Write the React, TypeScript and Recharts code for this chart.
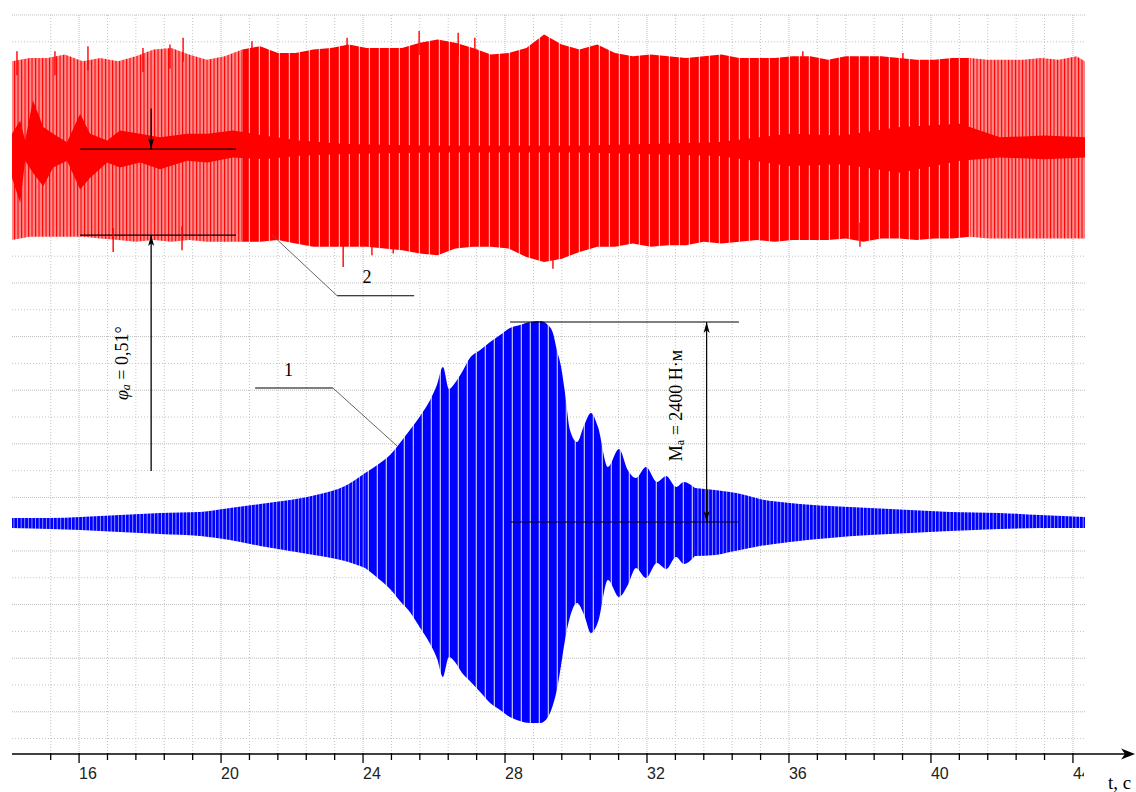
import { ComposedChart, XAxis, YAxis, CartesianGrid, Area, Scatter, ReferenceLine, ReferenceDot } from "recharts";

// time axis, s
const T_MIN = 14.11;
const T_MAX = 44.34;
const majorTicks = [16, 20, 24, 28, 32, 36, 40, 44];
const minorTicks = [
  15.2, 16.8, 17.6, 18.4, 19.2, 20.8, 21.6, 22.4, 23.2, 24.8, 25.6, 26.4, 27.2, 28.8, 29.6, 30.4, 31.2, 32.8, 33.6,
  34.4, 35.2, 36.8, 37.6, 38.4, 39.2, 40.8, 41.6, 42.4, 43.2,
];
const allTicks = [...minorTicks, ...majorTicks].sort((a, b) => a - b);
const majorRows = [0, 2, 4, 6, 8, 10, 12, 14, 16, 18, 20, 22, 24, 26];
const minorRows = [1, 3, 5, 7, 9, 11, 13, 15, 17, 19, 21, 23, 25, 27];

// 1 — torque envelope, N·m
const blueT = [
  14.11, 15.18, 16.03, 17.15, 18.28, 19.41, 20.25, 21.1, 21.94, 22.79, 23.49, 24.06, 24.48, 24.76, 25.04, 25.32, 25.61,
  25.89, 26.08, 26.25, 26.42, 26.59, 26.79, 27.01, 27.3, 27.58, 27.86, 28.14, 28.42, 28.7, 28.99, 29.21, 29.35, 29.46,
  29.58, 29.69, 29.83, 30.03, 30.23, 30.42, 30.62, 30.9, 31.21, 31.46, 31.69, 31.97, 32.28, 32.54, 32.82, 33.04, 33.35,
  33.92, 34.34, 34.76, 35.18, 36.03, 37.15, 38.28, 39.41, 40.54, 41.94, 43.07, 44.34,
];
const blueHi = [
  48, 48, 60, 84, 108, 120, 168, 216, 264, 336, 432, 588, 708, 804, 948, 1104, 1272, 1464, 1644, 1860, 1596, 1668, 1800,
  1968, 2064, 2160, 2244, 2328, 2364, 2400, 2412, 2364, 2268, 2064, 1860, 1548, 1104, 960, 1164, 1308, 1140, 660, 876,
  624, 528, 660, 480, 552, 420, 480, 408, 384, 360, 324, 276, 228, 192, 168, 144, 120, 108, 84, 60,
];
const blueLo = [
  -72, -84, -96, -120, -144, -168, -216, -288, -348, -408, -468, -552, -696, -804, -948, -1080, -1272, -1464, -1632,
  -1860, -1620, -1680, -1812, -1908, -2040, -2172, -2256, -2340, -2388, -2412, -2412, -2340, -2196, -2016, -1716, -1416,
  -1140, -972, -1116, -1332, -1200, -696, -900, -756, -552, -672, -492, -564, -420, -504, -408, -396, -360, -324, -288,
  -240, -192, -156, -132, -108, -84, -72, -72,
];

// 2 — angle envelope, deg
const redT = [
  14.1, 14.6, 15.1, 15.6, 16.1, 16.6, 17.1, 17.6, 18.1, 18.6, 19.1, 19.6, 20.1, 20.6, 21.1, 21.6, 22.1, 22.6, 23.1, 23.6,
  24.1, 24.6, 25.1, 25.6, 26.1, 26.6, 27.1, 27.6, 28.1, 28.6, 29.1, 29.6, 30.1, 30.6, 31.1, 31.6, 32.1, 32.6, 33.1, 33.6,
  34.1, 34.6, 35.1, 35.6, 36.1, 36.6, 37.1, 37.6, 38.1, 38.6, 39.1, 39.6, 40.1, 40.6, 41.1, 41.6, 42.1, 42.6, 43.1, 43.6,
  44.1, 44.34,
];
const redHi = [
  0.52, 0.54, 0.54, 0.56, 0.52, 0.54, 0.52, 0.55, 0.59, 0.6, 0.56, 0.53, 0.55, 0.59, 0.61, 0.57, 0.57, 0.59, 0.6, 0.62,
  0.6, 0.6, 0.6, 0.63, 0.65, 0.63, 0.6, 0.56, 0.57, 0.6, 0.68, 0.62, 0.59, 0.62, 0.57, 0.55, 0.56, 0.55, 0.54, 0.55,
  0.56, 0.54, 0.54, 0.54, 0.55, 0.55, 0.53, 0.55, 0.55, 0.55, 0.54, 0.53, 0.53, 0.54, 0.54, 0.53, 0.53, 0.53, 0.54, 0.53,
  0.55, 0.52,
];
const redLo = [
  -0.54, -0.52, -0.52, -0.52, -0.52, -0.53, -0.54, -0.55, -0.54, -0.55, -0.54, -0.55, -0.55, -0.55, -0.55, -0.54, -0.56,
  -0.58, -0.58, -0.58, -0.58, -0.59, -0.6, -0.62, -0.63, -0.59, -0.58, -0.58, -0.59, -0.64, -0.67, -0.65, -0.61, -0.58,
  -0.58, -0.56, -0.58, -0.57, -0.57, -0.55, -0.56, -0.55, -0.54, -0.55, -0.54, -0.54, -0.54, -0.53, -0.55, -0.53, -0.53,
  -0.54, -0.53, -0.53, -0.52, -0.53, -0.53, -0.53, -0.53, -0.53, -0.53, -0.53,
];
const coreT = [
  14.11, 14.34, 14.48, 14.7, 14.99, 15.27, 15.66, 16.03, 16.31, 16.79, 17.15, 17.72, 18.28, 19.04, 19.61, 20.34, 21.2,
  22.2, 23.5, 26.0, 30.0, 34.0, 36.0, 37.5, 39.13, 40.82, 41.94, 43.2, 44.34,
];
const coreHi = [
  0.09, 0.17, 0.05, 0.29, 0.13, 0.09, 0.04, 0.21, 0.09, 0.05, 0.11, 0.09, 0.07, 0.09, 0.09, 0.11, 0.08, 0.05, 0.03, 0.02,
  0.02, 0.04, 0.09, 0.08, 0.13, 0.15, 0.07, 0.08, 0.07,
];
const coreLo = [
  -0.17, -0.32, -0.07, -0.14, -0.22, -0.11, -0.07, -0.24, -0.17, -0.08, -0.11, -0.08, -0.12, -0.07, -0.08, -0.05, -0.06,
  -0.04, -0.03, -0.02, -0.02, -0.04, -0.1, -0.09, -0.14, -0.07, -0.05, -0.06, -0.05,
];
const spikeTopT = [14.25, 15.32, 16.25, 17.8, 18.56, 18.93, 20.87, 23.55, 25.58, 26.68, 27.15, 36.39, 39.21];
const spikeTopV = [0.58, 0.58, 0.61, 0.6, 0.62, 0.66, 0.64, 0.66, 0.7, 0.69, 0.66, 0.58, 0.57];
const spikeBotT = [16.96, 18.9, 23.44, 24.25, 24.85, 29.35, 38.0];
const spikeBotV = [-0.61, -0.6, -0.7, -0.63, -0.62, -0.71, -0.58];

// annotations
const phiLevels = [0, -0.51];
const phiSpan = [16.03, 20.42];
const phiArrowT = 18.03;
const phiArrowEnds = [0.24, -1.91];
const phiLabel = { t: 17.21, v: -1.27 };
const leader2 = [
  [21.44, -0.51],
  [23.27, -0.87],
  [25.44, -0.87],
];
const label2 = { t: 24.11, v: -0.76 };
const maLevels = [2400, 0];
const maSpan = [28.14, 34.59];
const maArrowT = 33.68;
const maLabel = { t: 32.83, v: 1398 };
const leader1 = [
  [20.96, 1608],
  [23.15, 1608],
  [24.96, 912],
];
const label1 = { t: 21.9, v: 1830 };

const rows = (ts: number[], lo: number[], hi: number[]) => ts.map((t, i) => ({ t, range: [lo[i], hi[i]] }));
const blueRows = rows(blueT, blueLo, blueHi);
const redRows = rows(redT, redLo, redHi);
const coreRows = rows(coreT, coreLo, coreHi);
const span = (data: { t: number }[], a: number, b: number) => data.filter((r) => r.t >= a && r.t <= b);
const spikesTop = spikeTopT.map((t, i) => ({ t, v: spikeTopV[i] }));
const spikesBot = spikeBotT.map((t, i) => ({ t, v: spikeBotV[i] }));

const SERIF = "Liberation Serif, Times New Roman, serif";
const SANS = "Liberation Sans, Arial, sans-serif";

const arrowHead = (x: number, y: number, ux: number, uy: number, len = 11, half = 3) => {
  const bx = x - ux * len;
  const by = y - uy * len;
  const mx = x - ux * len * 0.75;
  const my = y - uy * len * 0.75;
  return (
    <path d={`M${x},${y}L${bx - uy * half},${by + ux * half}L${mx},${my}L${bx + uy * half},${by - ux * half}Z`} fill="#000" />
  );
};

const lineShape =
  (color = "#000", width = 1.2, head: "none" | "end" | "both" = "none") =>
  (p: any) => {
    const { x1, y1, x2, y2 } = p;
    const d = Math.hypot(x2 - x1, y2 - y1) || 1;
    const ux = (x2 - x1) / d;
    const uy = (y2 - y1) / d;
    return (
      <g>
        <line x1={x1} y1={y1} x2={x2} y2={y2} stroke={color} strokeWidth={width} />
        {head !== "none" && arrowHead(x2, y2, ux, uy)}
        {head === "both" && arrowHead(x1, y1, -ux, -uy)}
      </g>
    );
  };

const axisArrow = (p: any) => {
  const { x1, y1, x2 } = p;
  return (
    <g>
      <line x1={x1} y1={y1} x2={x2 - 8} y2={y1} stroke="#000" strokeWidth={1.5} />
      <path d={`M${x2},${y1}L${x2 - 14},${y1 - 5.5}L${x2 - 10},${y1}L${x2 - 14},${y1 + 5.5}Z`} fill="#000" />
      <text x={x2 - 27} y={y1 + 35} fontFamily={SERIF} fontSize={19} fill="#000">
        t, с
      </text>
    </g>
  );
};

function TimeTick(props: any) {
  const { x, y, payload } = props;
  const v = payload.value;
  const major = majorTicks.includes(v);
  const last = v === majorTicks[majorTicks.length - 1];
  return (
    <g>
      <line x1={x} x2={x} y1={y - 1} y2={y + (major ? 9 : 6)} stroke="#000" strokeWidth={1.3} />
      {major && (
        <svg x={x} y={y} width={last ? 11 : 40} height={32} overflow="hidden">
          <text x={0} y={25} fontFamily={SANS} fontSize={16} fill="#222">
            {v}
          </text>
        </svg>
      )}
    </g>
  );
}

const seg = (key: string, axis: string, pts: number[][], shape: (p: any) => any) => (
  <ReferenceLine
    key={key}
    yAxisId={axis}
    ifOverflow="visible"
    segment={[
      { x: pts[0][0], y: pts[0][1] },
      { x: pts[1][0], y: pts[1][1] },
    ]}
    shape={shape}
  />
);

const textDot = (key: string, axis: string, pos: { t: number; v: number }, render: (cx: number, cy: number) => any) => (
  <ReferenceDot key={key} yAxisId={axis} x={pos.t} y={pos.v} ifOverflow="visible" shape={(p: any) => render(p.cx, p.cy)} />
);

export default function App() {
  return (
    <div style={{ position: "absolute", left: 0, top: 0, width: 1136, height: 792, background: "#fff" }}>
      <ComposedChart width={1136} height={792} margin={{ top: 15, right: 51, bottom: 8, left: 12 }}>
        <defs>
          <pattern id="blueWide" patternUnits="userSpaceOnUse" width={9} height={8}>
            <rect width={9} height={8} fill="#0000ff" />
            <rect x={7.7} width={1.3} height={8} fill="#b4b4ff" />
          </pattern>
          <pattern id="blueDense" patternUnits="userSpaceOnUse" width={3.6} height={8}>
            <rect width={3.6} height={8} fill="#0000ff" />
            <rect x={2.7} width={0.9} height={8} fill="#a0a0ff" />
          </pattern>
          <pattern id="redWide" patternUnits="userSpaceOnUse" width={10} height={8}>
            <rect width={10} height={8} fill="#ff0000" />
            <rect x={8.8} width={1.2} height={8} fill="#ffb4b4" />
          </pattern>
          <pattern id="redDense" patternUnits="userSpaceOnUse" width={3.5} height={8}>
            <rect width={3.5} height={8} fill="#ff0000" />
            <rect x={1.2} width={2.2} height={8} fill="#ff9494" />
          </pattern>
        </defs>

        <CartesianGrid horizontalValues={minorRows} verticalValues={minorTicks} stroke="#c4c4c4" strokeDasharray="1 2" />
        <CartesianGrid horizontalValues={majorRows} verticalValues={majorTicks} stroke="#bdbdbd" strokeDasharray="1 1" />

        <XAxis
          type="number"
          dataKey="t"
          domain={[T_MIN, T_MAX]}
          allowDataOverflow
          ticks={allTicks}
          interval={0}
          tick={TimeTick}
          tickLine={false}
          axisLine={false}
          tickSize={0}
          tickMargin={0}
          height={30}
        />
        <YAxis hide type="number" domain={[0, 27.575]} reversed allowDataOverflow ticks={[...majorRows, ...minorRows]} />
        <YAxis yAxisId="phi" hide type="number" domain={[-3.588, 0.795]} allowDataOverflow />
        <YAxis yAxisId="m" hide type="number" domain={[-2784, 6084]} allowDataOverflow />

        {/* 2 — angle */}
        <Area yAxisId="phi" data={span(redRows, 0, 20.6)} dataKey="range" type="linear" stroke="none" fill="url(#redDense)" fillOpacity={1} dot={false} activeDot={false} isAnimationActive={false} />
        <Area yAxisId="phi" data={span(redRows, 20.6, 41.1)} dataKey="range" type="linear" stroke="none" fill="url(#redWide)" fillOpacity={1} dot={false} activeDot={false} isAnimationActive={false} />
        <Area yAxisId="phi" data={span(redRows, 41.1, 99)} dataKey="range" type="linear" stroke="none" fill="url(#redDense)" fillOpacity={1} dot={false} activeDot={false} isAnimationActive={false} />
        <Area yAxisId="phi" data={coreRows} dataKey="range" type="linear" stroke="none" fill="#ff0000" fillOpacity={1} dot={false} activeDot={false} isAnimationActive={false} />
        <Scatter yAxisId="phi" data={spikesTop} dataKey="v" isAnimationActive={false} shape={(p: any) => <line x1={p.cx} x2={p.cx} y1={p.cy} y2={p.cy + 24} stroke="#ff0000" strokeWidth={1.4} />} />
        <Scatter yAxisId="phi" data={spikesBot} dataKey="v" isAnimationActive={false} shape={(p: any) => <line x1={p.cx} x2={p.cx} y1={p.cy} y2={p.cy - 24} stroke="#ff0000" strokeWidth={1.4} />} />

        {/* 1 — torque */}
        <Area yAxisId="m" data={span(blueRows, 0, 24.06)} dataKey="range" type="monotone" stroke="none" fill="url(#blueDense)" fillOpacity={1} dot={false} activeDot={false} isAnimationActive={false} />
        <Area yAxisId="m" data={span(blueRows, 24.06, 33.35)} dataKey="range" type="monotone" stroke="none" fill="url(#blueWide)" fillOpacity={1} dot={false} activeDot={false} isAnimationActive={false} />
        <Area yAxisId="m" data={span(blueRows, 33.35, 99)} dataKey="range" type="monotone" stroke="none" fill="url(#blueDense)" fillOpacity={1} dot={false} activeDot={false} isAnimationActive={false} />

        {/* time axis with arrow */}
        {seg("axis", "m", [[T_MIN, -2784], [45.75, -2784]], axisArrow)}

        {/* φa marker */}
        {phiLevels.map((v, i) => seg(`phi-h${i}`, "phi", [[phiSpan[0], v], [phiSpan[1], v]], lineShape("#000", 1.3)))}
        {seg("phi-a1", "phi", [[phiArrowT, phiArrowEnds[0]], [phiArrowT, phiLevels[0]]], lineShape("#000", 1.3, "end"))}
        {seg("phi-a2", "phi", [[phiArrowT, phiArrowEnds[1]], [phiArrowT, phiLevels[1]]], lineShape("#000", 1.3, "end"))}
        {textDot("phi-t", "phi", phiLabel, (cx, cy) => (
          <text x={cx} y={cy} transform={`rotate(-90 ${cx} ${cy})`} textAnchor="middle" dominantBaseline="central" fontFamily={SERIF} fontSize={18} fill="#000">
            <tspan fontStyle="italic">φ</tspan>
            <tspan fontStyle="italic" fontSize={12} dy={4}>a</tspan>
            <tspan dy={-4}> = 0,51°</tspan>
          </text>
        ))}

        {/* leader 2 */}
        {seg("l2a", "phi", [leader2[0], leader2[1]], lineShape("#666", 1))}
        {seg("l2b", "phi", [leader2[1], leader2[2]], lineShape("#000", 1.2))}
        {textDot("l2t", "phi", label2, (cx, cy) => (
          <text x={cx} y={cy} textAnchor="middle" dominantBaseline="central" fontFamily={SERIF} fontSize={18} fill="#000">2</text>
        ))}

        {/* Ma marker */}
        {maLevels.map((v, i) => seg(`ma-h${i}`, "m", [[maSpan[0], v], [maSpan[1], v]], lineShape("#000", 1.2)))}
        {seg("ma-a", "m", [[maArrowT, maLevels[1]], [maArrowT, maLevels[0]]], lineShape("#000", 1.2, "both"))}
        {textDot("ma-t", "m", maLabel, (cx, cy) => (
          <text x={cx} y={cy} transform={`rotate(-90 ${cx} ${cy})`} textAnchor="middle" dominantBaseline="central" fontFamily={SERIF} fontSize={18} fill="#000">
            <tspan>M</tspan>
            <tspan fontSize={12} dy={4}>a</tspan>
            <tspan dy={-4}> = 2400 Н·м</tspan>
          </text>
        ))}

        {/* leader 1 */}
        {seg("l1a", "m", [leader1[0], leader1[1]], lineShape("#000", 1.2))}
        {seg("l1b", "m", [leader1[1], leader1[2]], lineShape("#666", 1))}
        {textDot("l1t", "m", label1, (cx, cy) => (
          <text x={cx} y={cy} textAnchor="middle" dominantBaseline="central" fontFamily={SERIF} fontSize={18} fill="#000">1</text>
        ))}
      </ComposedChart>
    </div>
  );
}
